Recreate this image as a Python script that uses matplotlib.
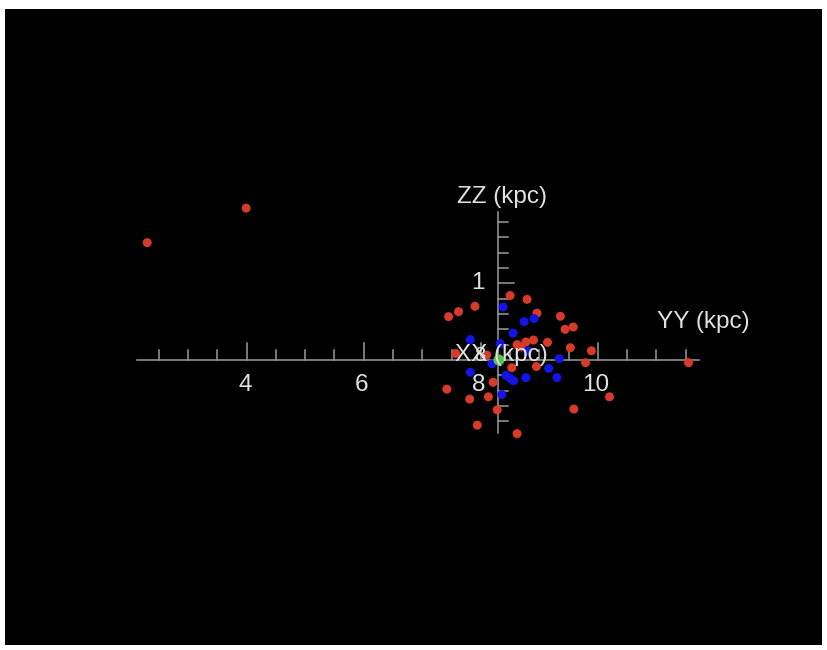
import matplotlib.pyplot as plt
import numpy as np

# point positions (Y, Z) in kpc
red_y = [2.30, 3.99, 8.50, 8.79, 7.90, 7.62, 7.45, 8.96, 9.36, 9.44, 9.58,
         8.62, 8.69, 8.77, 8.90, 9.14, 9.53, 9.89, 9.79, 11.55, 7.57, 8.10,
         8.53, 8.95, 8.21, 7.42, 7.81, 8.13, 10.20, 9.59, 8.28, 7.94, 8.62]
red_z = [1.53, 1.98, 0.84, 0.79, 0.70, 0.63, 0.565, 0.61, 0.57, 0.40, 0.43,
         0.20, 0.17, 0.235, 0.26, 0.23, 0.16, 0.12, -0.035, -0.035, 0.085, 0.065,
         -0.10, -0.085, -0.29, -0.38, -0.51, -0.48, -0.48, -0.64, -0.65, -0.85, -0.96]

blue_y = [8.38, 8.74, 8.91, 8.55, 7.82, 8.33, 8.80, 9.34, 8.19, 7.82,
          8.43, 8.50, 8.56, 8.77, 9.16, 9.30, 8.36]
blue_z = [0.69, 0.50, 0.54, 0.35, 0.265, 0.215, 0.12, 0.017, -0.05, -0.16,
          -0.20, -0.24, -0.27, -0.23, -0.11, -0.23, -0.45]

sun_y = [8.31]
sun_z = [0.0]

origin_y = 8.29
y_axis_range = [2.12, 11.72]
z_axis_range = [-0.95, 1.93]
y_minor = np.arange(2.5, 11.51, 0.5)
y_major = [4, 6, 8, 10]
z_minor = np.arange(-0.8, 1.81, 0.2)
z_major = [1]

fig = plt.figure(figsize=(8.27, 6.5), dpi=100)
fig.patch.set_facecolor('white')
ax = fig.add_axes([5 / 827, 5 / 650, 817 / 827, 636 / 650])
ax.set_facecolor('black')
ax.set_xlim(-0.13, 13.83)
ax.set_ylim(-3.716, 4.576)
ax.set_xticks([])
ax.set_yticks([])
for s in ax.spines.values():
    s.set_visible(False)

axcol = '#9a9a9a'
txtcol = '#e0e0e0'
font = ['Liberation Sans', 'DejaVu Sans']
fs = 17.5

# axes lines
ax.plot(y_axis_range, [0, 0], color=axcol, lw=1.1, zorder=1)
ax.plot([origin_y, origin_y], z_axis_range, color=axcol, lw=1.1, zorder=1)

# ticks on horizontal (Y) axis
for t in y_minor:
    h = 0.22 if t in y_major else 0.13
    ax.plot([t, t], [0, h], color=axcol, lw=1.1, zorder=1)
for t in y_major:
    ax.text(t - 0.03, -0.33, str(t), color=txtcol, fontsize=fs, family=font,
            ha='center', va='center', zorder=5)

# ticks on vertical (Z) axis
for t in z_minor:
    if abs(t) < 1e-6:
        continue
    w = 0.27 if abs(t - 1) < 1e-6 else 0.17
    ax.plot([origin_y, origin_y + w], [t, t], color=axcol, lw=1.1, zorder=1)
for t in z_major:
    ax.text(7.95, t, str(t), color=txtcol, fontsize=fs, family=font,
            ha='center', va='center', zorder=5)

# data points
ax.scatter(red_y, red_z, s=42, color='#d63a28', edgecolors='none', zorder=3)
ax.scatter(blue_y, blue_z, s=42, color='#1414e6', edgecolors='none', zorder=3)
ax.scatter(sun_y, sun_z, s=64, color='#5cbf48', edgecolors='none', zorder=4)

# axis titles
ax.text(8.37, 2.13, 'ZZ (kpc)', color=txtcol, fontsize=fs, family=font,
        ha='center', va='center', zorder=5)
ax.text(11.80, 0.50, 'YY (kpc)', color=txtcol, fontsize=fs, family=font,
        ha='center', va='center', zorder=5)
ax.text(8.36, 0.06, 'XX (kpc)', color=txtcol, fontsize=fs, family=font,
        ha='center', va='center', zorder=5)
ax.text(7.98, 0.06, '8', color=txtcol, fontsize=fs - 3, family=font,
        ha='center', va='center', zorder=5)

fig.savefig('out.png', dpi=100, facecolor='white')
